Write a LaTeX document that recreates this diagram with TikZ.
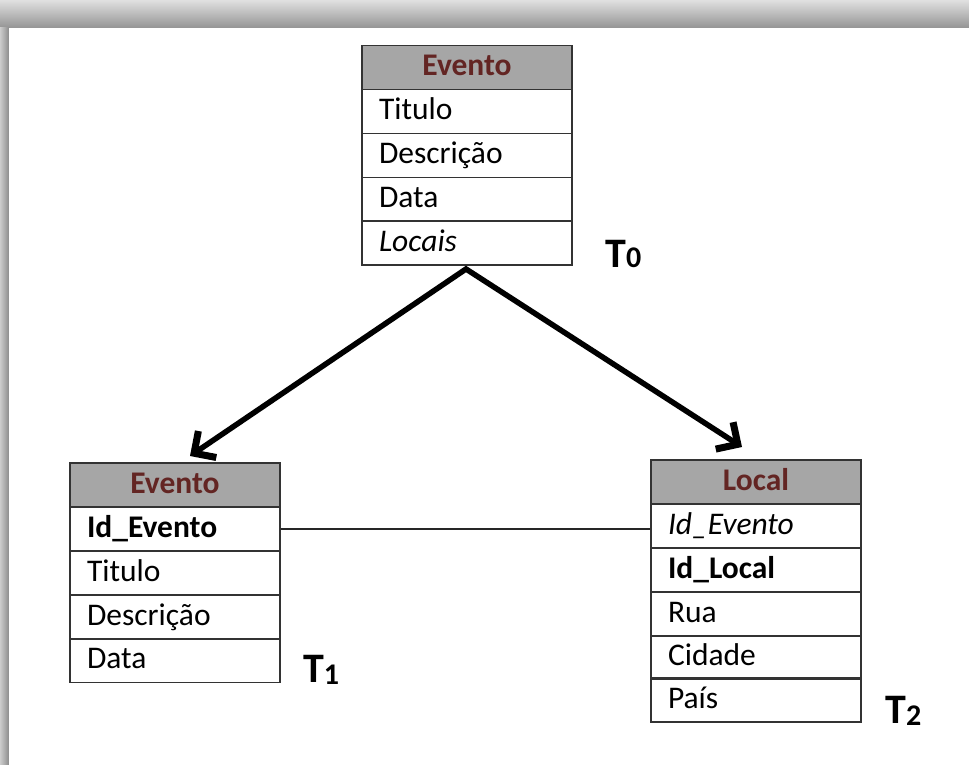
\documentclass[tikz,border=0pt]{standalone}
\usepackage{fontspec}
\setmainfont{Carlito}
\usetikzlibrary{arrows.meta}
\definecolor{hdrgray}{HTML}{A6A6A6}
\definecolor{hdrred}{HTML}{632523}
\begin{document}
\begin{tikzpicture}[x=1pt,y=-1pt,
  cell/.style={draw=black!80, line width=1.5pt, minimum width=210pt, minimum height=44pt,
    inner sep=0pt, text width=176pt, align=left, text height=20pt, text depth=4pt,
    font=\fontsize{31.5}{36}\selectfont},
  hdr/.style={cell, fill=hdrgray, align=center, text=hdrred,
    font=\fontsize{31.5}{36}\selectfont\bfseries},
  tlabel/.style={anchor=base west, inner sep=0pt, font=\fontsize{42}{48}\selectfont\bfseries},
  bigarrow/.style={line width=5.5pt, line join=miter,
    {Straight Barb[length=16pt,width=32pt,line width=7pt]}-{Straight Barb[length=16pt,width=32pt,line width=7pt]}},
  link/.style={line width=1.2pt, draw=black!85}]
% frame with shadow
\useasboundingbox (0,0) rectangle (969,765);
\fill[black!40] (0,0) rectangle (969,765);
\shade[top color=black!12, bottom color=black!42] (0,0) rectangle (969,28);
\shade[left color=black!20, right color=black!45] (0,28) rectangle (9,765);
\fill[white] (9,28) rectangle (969,765);
% top table T0
\node[hdr]  (a0) at (467,67.5) {Evento};
\node[cell] (a1) at (467,111.5) {Titulo};
\node[cell] (a2) at (467,155.5) {Descrição};
\node[cell] (a3) at (467,199.5) {Data};
\node[cell] (a4) at (467,243) {\itshape Locais};
% left table T1
\node[hdr]  (b0) at (175,485) {Evento};
\node[cell] (b1) at (175,529) {\bfseries Id\_Evento};
\node[cell] (b2) at (175,573) {Titulo};
\node[cell] (b3) at (175,617) {Descrição};
\node[cell] (b4) at (175,660.5) {Data};
% right table T2
\node[hdr]  (c0) at (756,482) {Local};
\node[cell] (c1) at (756,526) {\itshape Id\_Evento};
\node[cell] (c2) at (756,570) {\bfseries Id\_Local};
\node[cell] (c3) at (756,614) {Rua};
\node[cell] (c4) at (756,657.5) {Cidade};
\node[cell] (c5) at (756,700) {País};
% labels
\node[tlabel] (l0) at (605,267) {T{\fontsize{30}{36}\selectfont 0}};
\node[tlabel] (l1) at (303,682) {T{\fontsize{30}{36}\selectfont\raisebox{-2pt}{1}}};
\node[tlabel] (l2) at (885,723) {T{\fontsize{30}{36}\selectfont\raisebox{-2pt}{2}}};
% arrows
\coordinate (apex) at (466,269);
\coordinate (tipL) at (190,456);
\coordinate (tipR) at (742,447);
\draw[bigarrow] (tipL) -- (apex) -- (tipR);
% link
\draw[link] (b1.east) -- (b1.east -| c1.west);
\end{tikzpicture}
\end{document}
